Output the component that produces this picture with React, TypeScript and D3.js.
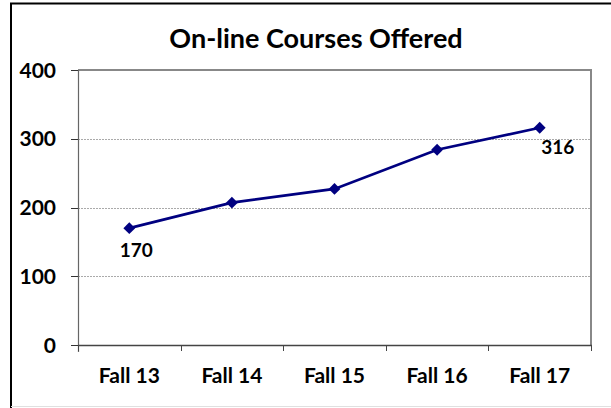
import React from "react";
import * as d3 from "d3";

const categories = ["Fall 13", "Fall 14", "Fall 15", "Fall 16", "Fall 17"];
const values = [170, 207, 227, 284, 316];
const yTicks = [0, 100, 200, 300, 400];
const labeledIdx = [0, 4];
const title = "On-line Courses Offered";

const W = 611;
const H = 408;
const FONT = "Lato, 'Open Sans', sans-serif";

export default function App() {
  const left = 78;
  const right = 591;
  const top = 70;
  const bottom = 345;
  const x = d3.scaleBand().domain(categories).range([left, right]);
  const y = d3.scaleLinear().domain([0, 400]).range([bottom, top]);
  const cx = (c: string) => (x(c) as number) + x.bandwidth() / 2;
  const line = d3
    .line<number>()
    .x((_, i) => cx(categories[i]))
    .y((d) => y(d));
  const marker = d3.symbol().type(d3.symbolSquare).size(70)();
  const labelOffset = [
    [7, 29],
    [18, 26],
  ];

  return (
    <div style={{ position: "absolute", left: 0, top: 0 }}>
      <svg width={W} height={H} style={{ display: "block" }}>
        <rect x={0} y={0} width={W} height={H} fill="#fff" />
        {/* outer frame */}
        <line x1={10} y1={3.5} x2={W} y2={3.5} stroke="#000" strokeWidth={2} />
        <line x1={11} y1={3} x2={11} y2={H} stroke="#000" strokeWidth={2} />
        <line x1={11} y1={406.5} x2={W} y2={406.5} stroke="#e0e0e0" strokeWidth={1} />
        <text
          x={316}
          y={48}
          textAnchor="middle"
          fontFamily={FONT}
          fontWeight="bold"
          fontSize={27}
          fill="#000"
        >
          {title}
        </text>
        {/* gridlines */}
        {yTicks
          .filter((t) => t > 0 && t < 400)
          .map((t) => (
            <line
              key={t}
              x1={left}
              x2={right}
              y1={Math.round(y(t)) + 0.5}
              y2={Math.round(y(t)) + 0.5}
              stroke="#aaa"
              strokeWidth={1}
              strokeDasharray="2,1"
            />
          ))}
        {/* plot border top & right */}
        <line x1={left} x2={right + 1} y1={y(400)} y2={y(400)} stroke="#888" strokeWidth={2} />
        <line x1={right} x2={right} y1={y(400)} y2={bottom} stroke="#888" strokeWidth={2} />
        {/* y axis */}
        <line x1={left + 0.5} x2={left + 0.5} y1={top} y2={bottom + 7} stroke="#666" strokeWidth={1.2} />
        {yTicks.map((t) => (
          <g key={t}>
            <line x1={left - 7} x2={left} y1={Math.round(y(t)) + 0.5} y2={Math.round(y(t)) + 0.5} stroke="#333" strokeWidth={1} />
            <text
              x={56}
              y={y(t) + 7.5}
              textAnchor="end"
              fontFamily={FONT}
              fontWeight="bold"
              fontSize={21}
              fill="#000"
            >
              {t}
            </text>
          </g>
        ))}
        {/* x axis */}
        <line x1={left} x2={right + 1} y1={bottom + 0.5} y2={bottom + 0.5} stroke="#444" strokeWidth={1.5} />
        {categories.map((c, i) => (
          <line
            key={"t" + i}
            x1={Math.round(x(c) as number) + 0.5}
            x2={Math.round(x(c) as number) + 0.5}
            y1={bottom}
            y2={bottom + 6}
            stroke="#444"
            strokeWidth={1}
          />
        ))}
        <line x1={right + 0.5} x2={right + 0.5} y1={bottom} y2={bottom + 6} stroke="#444" strokeWidth={1} />
        {categories.map((c) => (
          <text
            key={c}
            x={cx(c)}
            y={383}
            textAnchor="middle"
            fontFamily={FONT}
            fontWeight="bold"
            fontSize={21}
            fill="#000"
          >
            {c}
          </text>
        ))}
        {/* series */}
        <path d={line(values) || ""} fill="none" stroke="#000080" strokeWidth={2.7} />
        {values.map((v, i) => (
          <path
            key={i}
            d={marker || ""}
            transform={`translate(${cx(categories[i])},${y(v)}) rotate(45)`}
            fill="#000080"
          />
        ))}
        {labeledIdx.map((i, k) => (
          <text
            key={"l" + i}
            x={cx(categories[i]) + labelOffset[k][0]}
            y={y(values[i]) + labelOffset[k][1]}
            textAnchor="middle"
            fontFamily={FONT}
            fontWeight="bold"
            fontSize={19}
            fill="#000"
          >
            {values[i]}
          </text>
        ))}
      </svg>
    </div>
  );
}
